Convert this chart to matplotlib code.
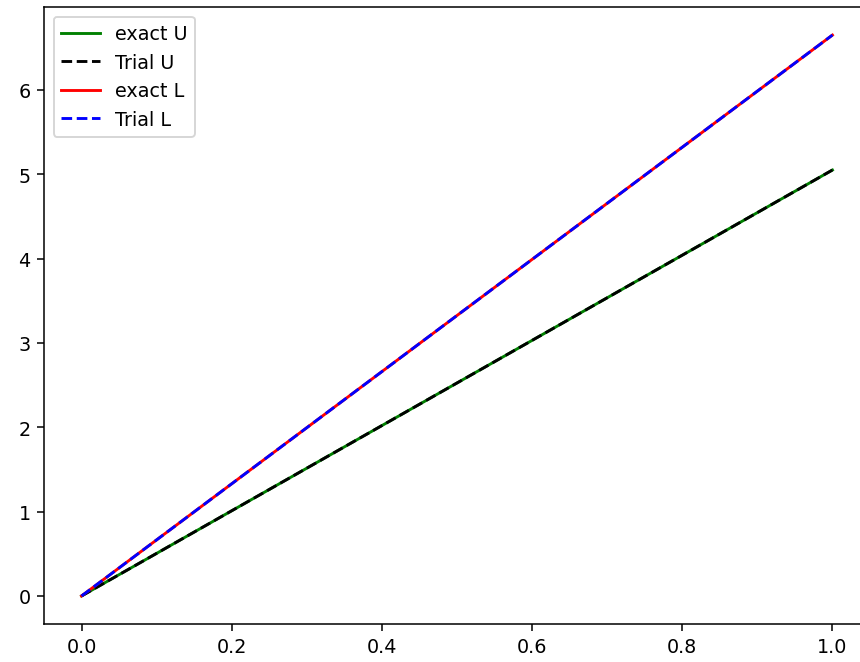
import matplotlib
matplotlib.use('Agg')
import matplotlib.pyplot as plt

# values
x = [0.0, 0.2, 0.4, 0.6, 0.8, 1.0]
exact_u = [0.0, 1.01, 2.02, 3.03, 4.04, 5.05]
trial_u = [0.0, 1.01, 2.02, 3.03, 4.04, 5.05]
exact_l = [0.0, 1.33, 2.66, 3.99, 5.32, 6.65]
trial_l = [0.0, 1.33, 2.66, 3.99, 5.32, 6.65]

dpi = 138
fig = plt.figure(figsize=(860 / dpi, 663 / dpi), dpi=dpi)
# the reference is cropped: right spine falls just outside the picture
ax = fig.add_axes([44 / 860, (663 - 625) / 663, (870 - 44) / 860, (625 - 8) / 663])

ax.plot(x, exact_u, 'g', label='exact U')
ax.plot(x, trial_u, 'k--', label='Trial U')
ax.plot(x, exact_l, 'r', label='exact L')
ax.plot(x, trial_l, 'b--', label='Trial L')

ax.legend(loc='upper left')

fig.savefig('out.png', dpi=dpi)
